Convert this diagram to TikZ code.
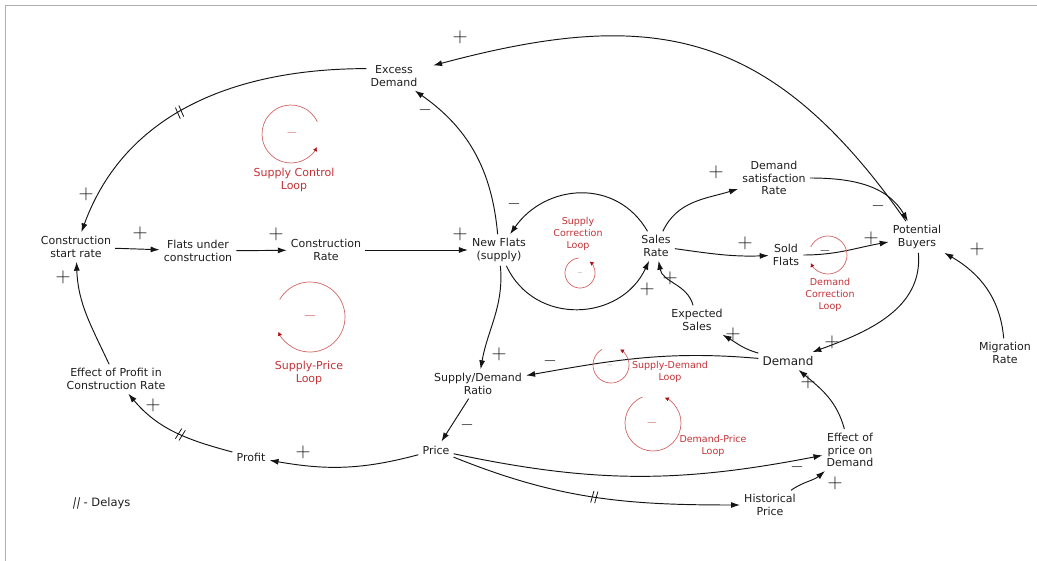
\documentclass[tikz,border=0pt]{standalone}
\usepackage{fontspec}
\setmainfont{DejaVu Sans}
\newfontfamily\slantfont[FakeSlant=0.2]{DejaVu Sans}
\usetikzlibrary{arrows.meta,decorations.markings}
\definecolor{vtext}{RGB}{30,30,30}
\definecolor{vline}{RGB}{20,20,20}
\definecolor{loopred}{RGB}{195,50,55}
\definecolor{loopcirc}{RGB}{210,100,100}
\definecolor{looptip}{RGB}{175,15,20}
\definecolor{framegray}{RGB}{175,175,175}
\begin{document}
\begin{tikzpicture}[x=1pt,y=1pt,
    vnode/.style={align=center,inner sep=4pt,text=vtext,font=\fontsize{11}{12.5}\selectfont},
    lnk/.style={-{Latex[length=9pt,width=6pt]},line width=.95pt,draw=vline},
    pls/.style={text=vline,inner sep=0pt,font=\fontsize{20}{20}\selectfont},
    mns/.style={text=vline,inner sep=0pt,font=\fontsize{16}{16}\selectfont},
    loopc/.style={draw=loopcirc,line width=.7pt,-{Latex[length=4pt,width=4.5pt,color=looptip]}},
    loopsgn/.style={inner sep=0pt,text=loopcirc},
    looplbl/.style={align=center,text=loopred,font=\fontsize{11}{13.5}\selectfont},
    looplblS/.style={align=center,text=loopred,font=\fontsize{9.5}{11.7}\selectfont},
    delaymark/.style={postaction={decorate},decoration={markings,
        mark=at position #1 with {\draw[line width=.8pt,-] (-2.5pt,-6pt) -- (-1pt,6pt) (1.5pt,-6pt) -- (3pt,6pt);}}},
]
\useasboundingbox (0,0) rectangle (1037,-561);
\draw[framegray,line width=.8pt] (5,-561) -- (5,-5) -- (1037,-5);
% Variables
\node[vnode] (exdem) at (394,-76) {Excess\\Demand};
\node[vnode] (cstart) at (76,-247) {Construction\\start rate};
\node[vnode] (fuc) at (198,-251) {Flats under\\construction};
\node[vnode] (crate) at (326,-250) {Construction\\Rate};
\node[vnode] (newfl) at (499,-250) {New Flats\\(supply)};
\node[vnode] (srate) at (656,-246) {Sales\\Rate};
\node[vnode] (dsat) at (774,-178) {Demand\\satisfaction\\Rate};
\node[vnode] (sold) at (786,-255) {Sold\\Flats};
\node[vnode] (pbuy) at (917,-237) {Potential\\Buyers};
\node[vnode] (migr) at (1005,-353) {Migration\\Rate};
\node[vnode] (expS) at (697,-320) {Expected\\Sales};
\node[vnode,font=\fontsize{12}{13}\selectfont] (dem) at (788,-361) {Demand};
\node[vnode] (sdr) at (478,-384) {Supply/Demand\\Ratio};
\node[vnode] (price) at (436,-450) {Price};
\node[vnode] (profit) at (251,-457) {Profit};
\node[vnode] (effprof) at (116,-379) {Effect of Profit in\\Construction Rate};
\node[vnode] (effprice) at (850,-450) {Effect of\\price on\\Demand};
\node[vnode] (histp) at (770,-505) {Historical\\Price};
\node[vnode,anchor=west,font=\fontsize{11.5}{13}\selectfont] (delaykey) at (68,-503) {{\slantfont ||} - Delays};
% Links
\draw[lnk,delaymark=.55] (exdem.165) to[out=180,in=70] (cstart);
\draw[lnk,shorten >=12pt] (pbuy) to[out=125,in=15,looseness=1.2] (exdem);
\draw[lnk] (newfl) to[out=95,in=-35] (exdem);
\draw[lnk] (cstart) -- (fuc);
\draw[lnk] (fuc) -- (crate);
\draw[lnk] (crate) -- (newfl);
\draw[lnk] (srate) to[out=120,in=55,looseness=1.15] (newfl);
\draw[lnk] (newfl) to[out=-65,in=-115,looseness=1.2] (srate);
\draw[lnk] (expS) to[out=105,in=-80] (srate);
\draw[lnk] (srate) to[out=65,in=197] (dsat);
\draw[lnk] (dsat) to[out=0,in=120] (pbuy);
\draw[lnk] (srate) to[out=-8,in=182] (sold);
\draw[lnk] (sold) to[out=0,in=190] (pbuy);
\draw[lnk] (migr) to[out=95,in=-30] (pbuy);
\draw[lnk] (pbuy) to[out=-85,in=20] (dem);
\draw[lnk] (dem) to[out=165,in=-30] (expS);
\draw[lnk] (dem) to[out=175,in=10] (sdr);
\draw[lnk] (newfl) to[out=-85,in=80] (sdr);
\draw[lnk] (sdr) -- (price);
\draw[lnk] (price) to[out=195,in=-10] (profit);
\draw[lnk,delaymark=.45] (profit) to[out=165,in=-50] (effprof);
\draw[lnk] (effprof) to[out=115,in=-88] (cstart);
\draw[lnk] (price) to[out=-12,in=191] (effprice);
\draw[lnk,delaymark=.5] (price) to[out=-22,in=180] (histp);
\draw[lnk] (histp) to[out=35,in=220] (effprice);
\draw[lnk] (effprice) to[out=105,in=-40] (dem);
% Polarities
\node[pls] (sg1) at (460,-37) {$+$};
\node[mns] (sg2) at (425,-110) {$-$};
\node[pls] (sg3) at (86,-194) {$+$};
\node[pls] (sg4) at (140,-233) {$+$};
\node[pls] (sg5) at (276,-234) {$+$};
\node[pls] (sg6) at (460,-234) {$+$};
\node[mns] (sg7) at (514,-204) {$-$};
\node[pls] (sg8) at (647,-289) {$+$};
\node[pls] (sg9) at (670,-278) {$+$};
\node[pls] (sg10) at (716,-172) {$+$};
\node[mns] (sg11) at (878,-206) {$-$};
\node[pls] (sg12) at (745,-243) {$+$};
\node[pls] (sg13) at (871,-238) {$+$};
\node[pls] (sg14) at (977,-249) {$+$};
\node[pls] (sg15) at (832,-342) {$+$};
\node[pls] (sg16) at (733,-334) {$+$};
\node[mns] (sg17) at (550,-361) {$-$};
\node[pls] (sg18) at (499,-354) {$+$};
\node[mns] (sg19) at (467,-425) {$-$};
\node[pls] (sg20) at (303,-452) {$+$};
\node[pls] (sg21) at (153,-405) {$+$};
\node[pls] (sg22) at (63,-277) {$+$};
\node[pls] (sg23) at (808,-382) {$+$};
\node[mns] (sg24) at (797,-467) {$-$};
\node[pls] (sg25) at (835,-483) {$+$};
% Loop markers
\draw[loopc] (291,-134) ++(25:29) arc[start angle=25,end angle=333,radius=29];
\node[loopsgn,font=\fontsize{15}{15}\selectfont] (lpA) at (292,-133) {$-$};
\node[looplbl] (lblA) at (294,-180) {Supply Control\\Loop};
\draw[loopc] (310,-317) ++(150:35) arc[start angle=150,end angle=-155,radius=35];
\node[loopsgn,font=\fontsize{18}{18}\selectfont] (lpB) at (310,-316) {$-$};
\node[looplbl] (lblB) at (309,-373) {Supply-Price\\Loop};
\draw[loopc] (580,-273) ++(95:15) arc[start angle=95,end angle=410,radius=15];
\node[loopsgn,text=gray,font=\fontsize{7}{7}\selectfont] (lpC) at (580,-273) {$-$};
\node[looplblS] (lblC) at (578,-234) {Supply\\Correction\\Loop};
\draw[loopc] (828,-255) ++(155:19) arc[start angle=155,end angle=-155,radius=19];
\node[loopsgn,text=vline,font=\fontsize{15}{15}\selectfont] (lpD) at (825,-251) {$-$};
\node[looplblS] (lblD) at (830,-295) {Demand\\Correction\\Loop};
\draw[loopc] (611,-365) ++(120:18) arc[start angle=120,end angle=420,radius=18];
\node[loopsgn,text=gray,font=\fontsize{8}{8}\selectfont] (lpE) at (610,-366) {$-$};
\node[looplblS] (lblE) at (670,-372) {Supply-Demand\\Loop};
\draw[loopc] (653,-423) ++(112:28) arc[start angle=112,end angle=425,radius=28];
\node[loopsgn,font=\fontsize{14}{14}\selectfont] (lpF) at (652,-423) {$-$};
\node[looplblS] (lblF) at (713,-446) {Demand-Price\\Loop};
\end{tikzpicture}
\end{document}
